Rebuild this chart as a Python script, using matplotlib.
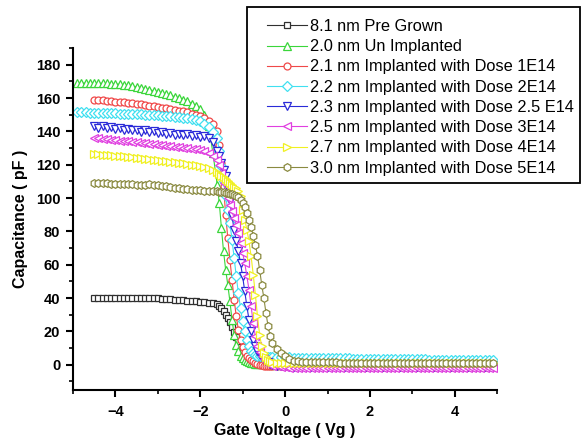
import matplotlib
matplotlib.use('Agg')
import matplotlib.pyplot as plt
from matplotlib.patches import Rectangle

plt.rcParams['font.family'] = ['Liberation Sans', 'DejaVu Sans']

# Gate voltage sweep (V), shared by all samples
V = [-4.9, -4.8, -4.7, -4.6, -4.5, -4.4, -4.3, -4.2, -4.1, -4.0,
     -3.9, -3.8, -3.7, -3.6, -3.5, -3.4, -3.3, -3.2, -3.1, -3.0,
     -2.9, -2.8, -2.7, -2.6, -2.5, -2.4, -2.3, -2.2, -2.1, -2.0,
     -1.9, -1.8, -1.7, -1.6,
     -1.55, -1.5, -1.45, -1.4, -1.35, -1.3, -1.25, -1.2, -1.15, -1.1,
     -1.05, -1.0, -0.95, -0.9, -0.85, -0.8, -0.75, -0.7, -0.65, -0.6,
     -0.55, -0.5, -0.45, -0.4, -0.35, -0.3,
     -0.2, -0.1, 0.0, 0.1, 0.2, 0.3, 0.4, 0.5, 0.6, 0.7,
     0.8, 0.9, 1.0, 1.1, 1.2, 1.3, 1.4, 1.5, 1.6, 1.7,
     1.8, 1.9, 2.0, 2.1, 2.2, 2.3, 2.4, 2.5, 2.6, 2.7,
     2.8, 2.9, 3.0, 3.1, 3.2, 3.3, 3.4, 3.5, 3.6, 3.7,
     3.8, 3.9, 4.0, 4.1, 4.2, 4.3, 4.4, 4.5, 4.6, 4.7,
     4.8, 4.9]

# Capacitance (pF) for each sample; sweep starts at v_start
c_pre_grown = [
    40, 40, 40, 40, 40, 40, 40, 40, 40, 40, 40, 40, 40, 40, 39.9,
    39.8, 39.6, 39.4, 39.2, 39.0, 38.8, 38.6, 38.4, 38.2, 38.0,
    37.8, 37.6, 37.3, 37.0, 36.5,
    35.5, 34, 32, 30, 28, 25.5, 22.5, 19.5, 16.5, 13.5, 10.5, 8, 6, 4, 2.5,
    1.5, 1.0, 0.8, 0.7, 0.6, 0.6, 0.5, 0.5, 0.5, 0.5, 0.5,
    0.5, 0.5, 0.5, 0.5, 0.5, 0.5, 0.5, 0.5, 0.5, 0.5, 0.5, 0.5, 0.5,
    0.5, 0.5, 0.5, 0.5, 0.5, 0.5, 0.5, 0.5, 0.5, 0.5, 0.5, 0.5, 0.5,
    0.5, 0.5, 0.5, 0.5, 0.5, 0.5, 0.5, 0.5, 0.5, 0.5, 0.5, 0.5, 0.5,
    0.5, 0.5, 0.5, 0.5, 0.5, 0.5, 0.5, 0.5, 0.5, 0.5, 0.5, 0.5, 0.5]
c_un_implanted = [
    169, 169, 169, 169, 169, 169, 168.8, 168.8, 168.6, 168.5,
    168.3, 168.0, 167.6, 167.2, 166.8, 166.2, 165.6, 165.0, 164.4, 163.8,
    163.0, 162.3, 161.6, 160.8, 160.0, 159.0, 158.0, 156.7, 155.3, 153.5,
    150, 143, 127, 108,
    97, 82, 68, 57, 48, 38, 27, 18, 12, 8, 5.5, 4, 3, 2.2, 1.6, 1.1,
    0.8, 0.6, 0.5, 0.4, 0.3, 0.3, 0.2, 0.2, 0.2, 0.1,
    0.1, 0.1, 0.0, 0.0, 0.0, 0.0, 0.0, 0.0, 0.0, 0.0, 0.0, 0.0, 0.0,
    0.0, 0.0, 0.0, 0.0, 0.0, 0.0, 0.0, 0.0, 0.0, 0.0, 0.0, 0.0, 0.0,
    0.0, 0.0, 0.0, 0.0, 0.0, 0.0, 0.0, 0.0, 0.0, 0.0, 0.0, 0.0, 0.0,
    0.0, 0.0, 0.0, 0.0, 0.0, 0.0, 0.0, 0.0, 0.0, 0.0, 0.0, 0.0, 0.0]
c_dose_1e14 = [
    159, 159, 158.7, 158.4, 158.1, 157.8, 157.6, 157.4, 157.1, 156.8,
    156.5, 156.2, 155.9, 155.5, 155.1, 154.7, 154.3, 153.9, 153.5, 153.0,
    152.5, 152.0, 151.4, 150.7, 149.9, 149.0, 147.9, 146.5, 144.5, 140.5,
    132, 121, 107, 90, 76, 63, 51, 39, 29, 21, 15, 10.5, 7.5, 5.5, 4,
    3, 2, 1.2, 0.5, 0.0, -0.4, -0.6, -0.8, -0.9, -1.0, -1.0,
    -1.0, -1.0, -1.0, -1.0, -1.0, -1.0, -1.0, -1.0, -1.0, -1.0, -1.0, -1.0, -1.0,
    -1.0, -1.0, -1.0, -1.0, -1.1, -1.1, -1.1, -1.1, -1.1, -1.1, -1.1, -1.1, -1.1,
    -1.1, -1.1, -1.1, -1.1, -1.1, -1.1, -1.1, -1.2, -1.2, -1.2, -1.2, -1.2, -1.2,
    -1.2, -1.2, -1.2, -1.2, -1.2, -1.2, -1.2, -1.2, -1.2, -1.2, -1.2, -1.2, -1.2]
c_dose_2e14 = [
    151.5, 151.5, 151.4, 151.3, 151.2, 151.1, 151.0, 151.0, 150.9, 150.8,
    150.7, 150.6, 150.5, 150.4, 150.3, 150.2, 150.1, 150.0, 149.8, 149.6,
    149.4, 149.2, 149.0, 148.8, 148.5, 148.2, 147.8, 147.3, 146.7, 146.0,
    144.5, 142.5, 139.5, 136,
    128, 119, 110, 101, 93, 85, 75, 64, 53, 43, 34, 26, 20, 15, 11, 8.5,
    7, 6, 5.5, 5.2, 5.0, 4.9, 4.8, 4.7, 4.6, 4.6,
    4.5, 4.5, 4.4, 4.4, 4.3, 4.3, 4.2, 4.2, 4.1, 4.1, 4.0, 4.0, 3.9,
    3.9, 3.9, 3.8, 3.8, 3.8, 3.7, 3.7, 3.7, 3.6, 3.6, 3.6, 3.5, 3.5,
    3.5, 3.4, 3.4, 3.4, 3.3, 3.3, 3.3, 3.2, 3.2, 3.2, 3.1, 3.1, 3.1,
    3.0, 3.0, 3.0, 3.0, 2.9, 2.9, 2.9, 2.9, 2.9, 2.8, 2.8, 2.8, 2.8]
c_dose_2p5e14 = [
    143.0, 142.2, 143.0, 141.8, 142.4, 141.3, 141.9, 141.0, 141.6, 140.6,
    140.9, 139.8, 140.6, 139.4, 140.0, 138.9, 139.4, 138.5, 139.1, 138.0,
    138.6, 137.7, 138.2, 137.2, 137.8, 136.8, 137.0, 135.8, 133.5, 128.5,
    125, 121, 117, 113, 106, 98, 89, 81, 74, 68, 61, 53, 44, 35, 27,
    20, 15, 11, 8, 6, 4.5, 3.3, 2.3, 1.4, 0.6, 0.0,
    -0.5, -0.8, -1.0, -1.1, -1.2, -1.3, -1.3, -1.3, -1.4, -1.4, -1.4, -1.4, -1.4,
    -1.4, -1.4, -1.4, -1.4, -1.4, -1.4, -1.4, -1.5, -1.5, -1.5, -1.5, -1.5, -1.5,
    -1.5, -1.5, -1.5, -1.5, -1.5, -1.5, -1.5, -1.5, -1.5, -1.5, -1.5, -1.5, -1.5,
    -1.5, -1.5, -1.5, -1.5, -1.5, -1.5, -1.5, -1.5, -1.5, -1.5, -1.5, -1.5, -1.5]
c_dose_3e14 = [
    136.0, 135.8, 135.5, 135.2, 135.0, 134.7, 134.5, 134.3, 134.0, 133.8,
    133.5, 133.3, 133.0, 132.7, 132.4, 132.1, 131.8, 131.5, 131.2, 130.9,
    130.6, 130.3, 130.0, 129.6, 129.2, 128.7, 128.0, 127.0, 125.5, 123.0,
    120, 115, 109, 104, 100, 96, 92, 88, 84, 79, 73, 67, 61, 53, 45,
    35, 25, 17, 11, 7.5, 5, 3.3, 2, 1, 0.2, -0.5,
    -1.0, -1.4, -1.6, -1.7, -1.8, -1.8, -1.9, -1.9, -1.9, -1.9, -1.9, -1.9, -1.9,
    -2.0, -2.0, -2.0, -2.0, -2.0, -2.0, -2.0, -2.0, -2.0, -2.0, -2.0, -2.0, -2.0,
    -2.0, -2.0, -2.0, -2.0, -2.0, -2.0, -2.0, -2.0, -2.0, -2.0, -2.0, -2.0, -2.0,
    -2.0, -2.0, -2.0, -2.0, -2.0, -2.0, -2.0, -2.0, -2.0, -2.0, -2.0, -2.0, -2.0]
c_dose_4e14 = [
    126.5, 126.2, 126.0, 125.8, 125.6, 125.4, 125.2, 125.0, 124.7, 124.4,
    124.1, 123.8, 123.5, 123.2, 122.9, 122.6, 122.3, 122.0, 121.7, 121.4,
    121.1, 120.8, 120.5, 120.1, 119.7, 119.2, 118.6, 117.8, 116.8, 115.5,
    114.5, 113.5, 112.5, 111.2, 110, 108.8, 107.6, 106.8, 106, 104.5, 101,
    93, 87, 81, 74, 65, 54, 42, 29, 18, 11, 7, 4.5, 3, 2, 1.5,
    1.2, 1.2, 1.2, 1.2, 1.1, 1.1, 1.1, 1.1, 1.1, 1.0, 1.0, 1.0, 1.0,
    1.0, 1.0, 1.0, 1.0, 1.0, 1.0, 1.0, 0.9, 0.9, 0.9, 0.9, 0.9, 0.9,
    0.9, 0.9, 0.9, 0.9, 0.9, 0.9, 0.9, 0.9, 0.8, 0.8, 0.8, 0.8, 0.8,
    0.8, 0.8, 0.8, 0.8, 0.8, 0.8, 0.8, 0.8, 0.8, 0.8, 0.8, 0.8, 0.8]
c_dose_5e14 = [
    109.0, 109.0, 108.9, 108.8, 108.7, 108.6, 108.5, 108.4, 108.3, 108.2,
    108.1, 108.0, 107.9, 108.4, 107.7, 107.6, 107.3, 107.0, 106.6, 106.2,
    105.9, 105.6, 105.3, 105.1, 104.9, 104.7, 104.5, 104.3, 104.1, 104.0,
    103.8, 103.6, 103.4, 103.2, 103.0, 102.7, 102.4, 102.0, 101.5, 100.5,
    99, 97, 94.5, 91, 87, 82.5, 77.5, 72, 65.5, 57, 48, 40, 31, 23, 17, 13,
    9.5, 7, 5, 3.5, 2.5, 2.0, 1.8, 1.6, 1.5, 1.5, 1.4, 1.4, 1.4,
    1.4, 1.4, 1.3, 1.3, 1.3, 1.3, 1.3, 1.3, 1.3, 1.3, 1.3, 1.3, 1.3,
    1.2, 1.2, 1.2, 1.2, 1.2, 1.2, 1.2, 1.2, 1.2, 1.2, 1.2, 1.2, 1.2,
    1.2, 1.2, 1.2, 1.2, 1.2, 1.2, 1.2, 1.2, 1.2, 1.2, 1.2, 1.2, 1.2]

labels = ['8.1 nm Pre Grown',
          '2.0 nm Un Implanted',
          '2.1 nm Implanted with Dose 1E14',
          '2.2 nm Implanted with Dose 2E14',
          '2.3 nm Implanted with Dose 2.5 E14',
          '2.5 nm Implanted with Dose 3E14',
          '2.7 nm Implanted with Dose 4E14',
          '3.0 nm Implanted with Dose 5E14']
series = [c_pre_grown, c_un_implanted, c_dose_1e14, c_dose_2e14,
          c_dose_2p5e14, c_dose_3e14, c_dose_4e14, c_dose_5e14]
v_start = [-4.5, -4.9, -4.5, -4.9, -4.5, -4.5, -4.5, -4.5]

colors = ['#303030', '#3ad63a', '#f04848', '#40e0f0', '#2a2ad8',
          '#e040e0', '#f0f020', '#8a8a40']
markers = ['s', '^', 'o', 'D', 'v', '<', '>', 'h']
sizes = [5, 5.8, 5, 5, 5.8, 5.8, 5.8, 5.5]

W, H = 583, 445
fig = plt.figure(figsize=(W / 100, H / 100), dpi=100)
ax = fig.add_axes([0.125, 0.124, 0.728, 0.768])

handles = []
for c, lab, vs, col, mk, ms in zip(series, labels, v_start, colors, markers, sizes):
    i0 = V.index(vs)
    h, = ax.plot(V[i0:i0 + len(c)], c, color=col, marker=mk, ms=ms,
                 mfc='white', mec=col, mew=0.9, lw=0.8, label=lab)
    handles.append(h)

ax.set_xlim(-5, 5)
ax.set_ylim(-15, 190)
ax.set_xticks([-4, -2, 0, 2, 4])
ax.set_xticks([-5, -3, -1, 1, 3, 5], minor=True)
ax.set_yticks(range(0, 181, 20))
ax.set_yticks(range(-10, 191, 10), minor=True)

for s in ['top', 'right']:
    ax.spines[s].set_visible(False)
for s in ['left', 'bottom']:
    ax.spines[s].set_linewidth(1.5)

ax.tick_params(which='major', direction='out', length=5, width=1.5,
               labelsize=10.5, pad=4)
ax.tick_params(which='minor', direction='out', length=3, width=1.2)
ax.tick_params(axis='x', pad=6)
for t in ax.get_xticklabels() + ax.get_yticklabels():
    t.set_fontweight('bold')

ax.set_xlabel('Gate Voltage ( Vg )', fontsize=11.5, fontweight='bold', labelpad=3)
ax.set_ylabel('Capacitance ( pF )', fontsize=11.5, fontweight='bold', labelpad=6)

# legend box sits partly outside the axes, drawn in figure pixels
fig.patches.append(Rectangle((247 / W, 1 - 183 / H), 333 / W, 176 / H,
                             transform=fig.transFigure, fill=False,
                             edgecolor='black', linewidth=1.3))
fig.legend(handles=handles, loc='upper left',
           bbox_to_anchor=(267 / W, 1 - 19 / H),
           bbox_transform=fig.transFigure, fontsize=11.8, frameon=False,
           handlelength=2.45, handletextpad=0.2, labelspacing=0.32,
           borderpad=0, borderaxespad=0)

fig.savefig('out.png', dpi=100)
